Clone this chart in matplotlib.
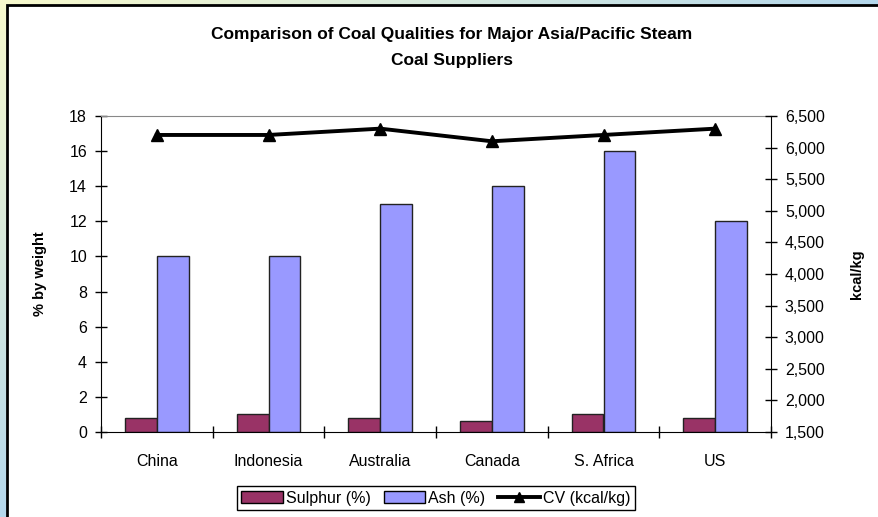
import numpy as np
import matplotlib.pyplot as plt
from matplotlib.patches import Rectangle
from matplotlib.lines import Line2D
from matplotlib.ticker import FuncFormatter, MultipleLocator

plt.rcParams['font.family'] = ['Liberation Sans', 'DejaVu Sans']

countries = ['China', 'Indonesia', 'Australia', 'Canada', 'S. Africa', 'US']
sulphur = [0.8, 1.0, 0.8, 0.6, 1.0, 0.8]
ash = [10, 10, 13, 14, 16, 12]
cv = [6200, 6200, 6300, 6100, 6200, 6300]

W, H = 879, 517
fig = plt.figure(figsize=(W / 100, H / 100), dpi=100)

# diagonal yellow-to-blue backdrop
bg = fig.add_axes([0, 0, 1, 1], zorder=-10)
gx, gy = np.meshgrid(np.linspace(0, 1, 200), np.linspace(0, 1, 200))
t = np.clip((gx + gy) / 1.3, 0, 1)[..., None]
c0 = np.array([248, 250, 205]) / 255
c1 = np.array([160, 205, 245]) / 255
bg.imshow(c0 * (1 - t) + c1 * t, extent=[0, 1, 0, 1], aspect='auto', origin='upper')
bg.set_axis_off()

# white chart panel
fig.patches.append(Rectangle((7 / W, -0.01), 1.0, 1 - 5 / H + 0.01, transform=fig.transFigure,
                             facecolor='white', edgecolor='black', linewidth=2, zorder=-5))

ax = fig.add_axes([101 / W, 1 - 432 / H, 670 / W, 316 / H])
ax.set_facecolor('white')
x = np.arange(len(countries))
bw = 0.286
ax.bar(x - bw / 2, sulphur, bw, color='#993366', edgecolor='#222222', linewidth=1, zorder=2)
ax.bar(x + bw / 2, ash, bw, color='#9999FF', edgecolor='#222222', linewidth=1, zorder=2)
ax.set_xlim(-0.5, len(countries) - 0.5)
ax.set_ylim(0, 18)
ax.yaxis.set_major_locator(MultipleLocator(2))
ax.set_xticks(x)
ax.set_xticklabels(countries, fontsize=11.5)
ax.set_xticks(np.arange(-0.5, len(countries)), minor=True)
ax.tick_params(axis='x', which='major', length=0, pad=16)
ax.tick_params(axis='x', which='minor', direction='inout', length=8, width=1)
ax.tick_params(axis='y', direction='inout', length=8, width=1, labelsize=11.5, pad=6)
ax.set_ylabel('% by weight', fontsize=10.5, fontweight='bold', labelpad=16)
for s in ['left', 'bottom']:
    ax.spines[s].set_color('black')
ax.spines['top'].set_color('#888888')
ax.spines['right'].set_visible(False)

ax2 = ax.twinx()
ax2.plot(x, cv, color='black', linewidth=2.8, marker='^', markersize=8, zorder=3)
ax2.set_ylim(1500, 6500)
ax2.yaxis.set_major_locator(MultipleLocator(500))
ax2.yaxis.set_major_formatter(FuncFormatter(lambda v, p: f'{int(v):,}'))
ax2.tick_params(axis='y', direction='inout', length=8, width=1, labelsize=11.5, pad=6)
ax2.set_ylabel('kcal/kg', fontsize=10.5, fontweight='bold', labelpad=18)
ax2.spines['right'].set_color('black')
ax2.spines['top'].set_visible(False)
ax2.spines['left'].set_visible(False)
ax2.spines['bottom'].set_visible(False)

fig.text(452 / W, 1 - 47.5 / H,
         'Comparison of Coal Qualities for Major Asia/Pacific Steam\nCoal Suppliers',
         ha='center', va='center', fontsize=12.5, fontweight='bold', linespacing=1.85)

handles = [Rectangle((0, 0), 1, 1, facecolor='#993366', edgecolor='black'),
           Rectangle((0, 0), 1, 1, facecolor='#9999FF', edgecolor='black'),
           Line2D([], [], color='black', linewidth=2.8, marker='^', markersize=7)]
leg = fig.legend(handles, ['Sulphur (%)', 'Ash (%)', 'CV (kcal/kg)'], loc='center',
                 bbox_to_anchor=(436 / W, 1 - 498 / H), ncol=3, fontsize=11.5,
                 frameon=True, fancybox=False, edgecolor='black', framealpha=1,
                 handlelength=2.6, handleheight=0.7, handletextpad=0.2, columnspacing=0.8,
                 borderpad=0.3, borderaxespad=0)
leg.get_frame().set_linewidth(1)

fig.savefig('out.png', dpi=100)
